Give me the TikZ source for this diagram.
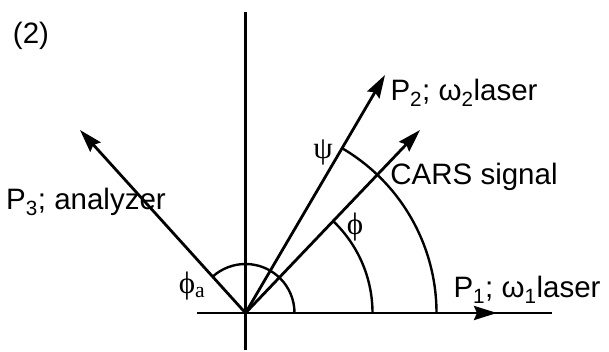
\documentclass[tikz,border=0pt]{standalone}
\usepackage{fontspec}
\setmainfont{Liberation Sans}
\newfontfamily\greekserif{Liberation Serif}
\usetikzlibrary{arrows.meta}
\tikzset{
  vec/.style={line width=2.8pt,-{Stealth[length=23pt,width=14pt,inset=3pt]}},
  axis/.style={line width=2.2pt},
  angarc/.style={line width=2.4pt},
  lbl/.style={font=\fontsize{29.5}{34}\selectfont,inner sep=0pt},
  grk/.style={font=\fontsize{31}{34}\greekserif,inner sep=0pt}
}
\begin{document}
\begin{tikzpicture}[x=1pt,y=1pt]
\useasboundingbox (0,0) rectangle (609,352);
\coordinate (O) at (245.5,39);
\coordinate (ytop) at (245.5,340);\coordinate (ybot) at (245.5,2);
\coordinate (xl) at (197,39);\coordinate (xr) at (552,39);
\coordinate (p1) at (497,39);
\coordinate (p2) at (385,277);
\coordinate (cars) at (420,222);
\coordinate (p3) at (80,222);
\draw[axis] (ybot)--(ytop);
\draw[axis] (xl)--(xr);
\draw[vec] (O)--(p1);
\draw[vec] (O)--(p2);
\draw[vec] (O)--(cars);
\draw[vec] (O)--(p3);
\draw[angarc] ([shift={(0:49)}]O) arc (0:132:49);
\draw[angarc] ([shift={(0:127)}]O) arc (0:46.4:127);
\draw[angarc] ([shift={(0:191)}]O) arc (0:59.6:191);
\node[lbl] (fig) at (31,316) {(2)};
\node[lbl] (lp3) at (86,150) {P\textsubscript{3}; analyzer};
\node[lbl] (lp2) at (464,259) {P\textsubscript{2}; ω\textsubscript{2}laser};
\node[lbl] (lcars) at (474,175) {CARS signal};
\node[lbl] (lp1) at (527,62) {P\textsubscript{1}; ω\textsubscript{1}laser};
\node[grk] (phia) at (192,66) {ϕ\textsubscript{a}};
\node[grk] (psi) at (323,200) {ψ};
\node[grk] (phi) at (355,125) {ϕ};
\end{tikzpicture}
\end{document}
